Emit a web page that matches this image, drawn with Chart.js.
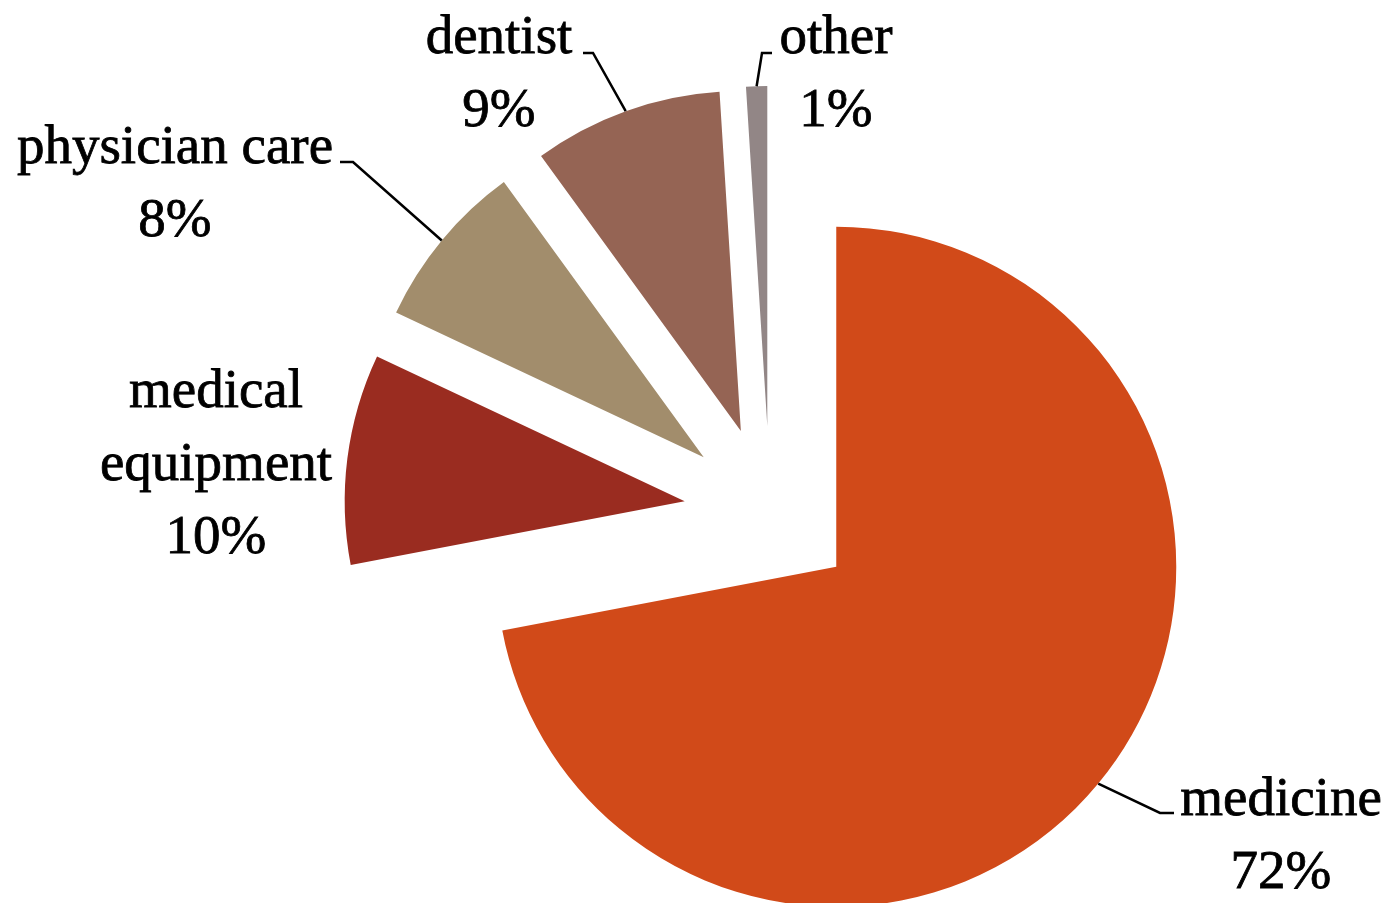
<!DOCTYPE html>
<html>
<head>
<meta charset="utf-8">
<title>Spending shares</title>
<script src="https://cdn.jsdelivr.net/npm/chart.js@4.4.1/dist/chart.umd.min.js"></script>
<style>
  html, body { margin: 0; padding: 0; background: #ffffff; }
  #wrap { width: 1393px; height: 903px; position: relative; }
</style>
</head>
<body>
<div id="wrap"><canvas id="chart"></canvas></div>
<script>
// Categories in clockwise order starting at twelve o'clock
const categories = ['medicine', 'medical equipment', 'physician care', 'dentist', 'other'];
// Share of spending, percent
const shares = [72, 10, 8, 9, 1];
const sliceColors = ['#D14A19', '#9A2C20', '#A28D6C', '#956454', '#928686'];

// Label placement: text centre x, first baseline y, whether the name wraps,
// and the elbow / end points of the leader line (null = no leader)
const labelLayout = [
  { x: 1281, y: 815, wrap: false, leader: [[1160, 813], [1174, 813]] },
  { x: 216,  y: 407, wrap: true,  leader: null },
  { x: 175,  y: 163, wrap: false, leader: [[353, 162], [340, 162]] },
  { x: 499,  y: 53,  wrap: false, leader: [[593, 53], [583, 53]] },
  { x: 836,  y: 53,  wrap: false, leader: [[762, 53], [772, 53]] }
];

const EXPLODE = 86;          // distance every slice is pulled out from the centre
const LABEL_FONT = '55px "Liberation Serif", "DejaVu Serif", serif';
const LINE_HEIGHT = 73;

// Pull every slice outward along its mid-angle
const explodePlugin = {
  id: 'explodeSlices',
  afterDatasetUpdate(chart, args) {
    const meta = chart.getDatasetMeta(args.index);
    meta.data.forEach(arc => {
      const mid = (arc.startAngle + arc.endAngle) / 2;
      arc.x += Math.cos(mid) * EXPLODE;
      arc.y += Math.sin(mid) * EXPLODE;
    });
  }
};

// Category name + percentage labels with leader lines
const labelPlugin = {
  id: 'sliceLabels',
  afterDatasetsDraw(chart) {
    const ctx = chart.ctx;
    const meta = chart.getDatasetMeta(0);
    const values = chart.data.datasets[0].data;
    const total = values.reduce((a, b) => a + b, 0);
    ctx.save();
    meta.data.forEach((arc, i) => {
      const lay = labelLayout[i];
      const name = chart.data.labels[i];
      const lines = lay.wrap ? name.split(' ') : [name];
      lines.push(Math.round(values[i] / total * 100) + '%');

      ctx.fillStyle = '#000000';
      ctx.strokeStyle = '#000000';
      ctx.lineWidth = 0.8;
      ctx.font = LABEL_FONT;
      ctx.textAlign = 'center';
      ctx.textBaseline = 'alphabetic';
      lines.forEach((t, k) => {
        ctx.fillText(t, lay.x, lay.y + k * LINE_HEIGHT);
        ctx.strokeText(t, lay.x, lay.y + k * LINE_HEIGHT);
      });

      if (lay.leader) {
        const mid = (arc.startAngle + arc.endAngle) / 2;
        const sx = arc.x + Math.cos(mid) * arc.outerRadius;
        const sy = arc.y + Math.sin(mid) * arc.outerRadius;
        ctx.beginPath();
        ctx.moveTo(sx, sy);
        lay.leader.forEach(p => ctx.lineTo(p[0], p[1]));
        ctx.lineWidth = 2.5;
        ctx.stroke();
      }
    });
    ctx.restore();
  }
};

new Chart(document.getElementById('chart'), {
  type: 'pie',
  data: {
    labels: categories,
    datasets: [{
      data: shares,
      backgroundColor: sliceColors,
      borderWidth: 0
    }]
  },
  options: {
    responsive: true,
    maintainAspectRatio: false,
    animation: false,
    events: [],
    layout: { padding: { left: 430, right: 283, top: 172, bottom: 51 } },
    plugins: {
      legend: { display: false },
      tooltip: { enabled: false }
    }
  },
  plugins: [explodePlugin, labelPlugin]
});
</script>
</body>
</html>
